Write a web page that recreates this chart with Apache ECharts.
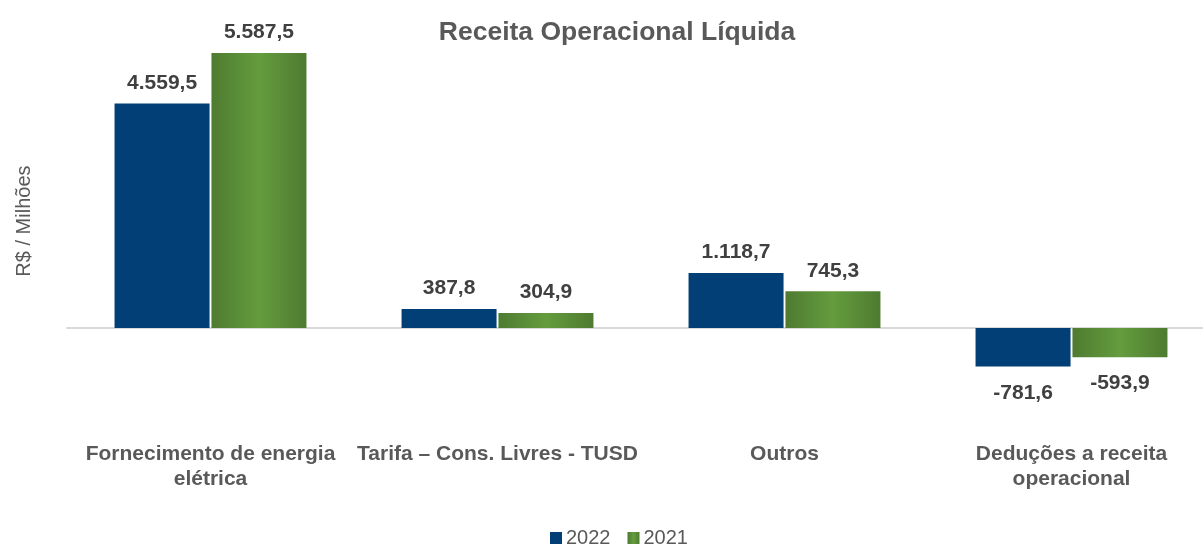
<!DOCTYPE html>
<html>
<head>
<meta charset="utf-8">
<script src="https://cdn.jsdelivr.net/npm/echarts@6/dist/echarts.min.js"></script>
<style>
html,body{margin:0;padding:0;background:#fff;}
#chart{width:1203px;height:545px;}
</style>
</head>
<body>
<div id="chart"></div>
<script>
const categories = ['Fornecimento de energia\nelétrica', 'Tarifa – Cons. Livres - TUSD', 'Outros', 'Deduções a receita\noperacional'];
const seriesNames = ['2022', '2021'];
const values2022 = [4559.5, 387.8, 1118.7, -781.6];
const values2021 = [5587.5, 304.9, 745.3, -593.9];

function fmt(v) {
  const neg = v < 0;
  const a = Math.abs(v);
  let [i, d] = a.toFixed(1).split('.');
  i = i.replace(/\B(?=(\d{3})+(?!\d))/g, '.');
  return (neg ? '-' : '') + i + ',' + d;
}
function build(vals) {
  return vals.map(v => v < 0 ? { value: v, label: { position: 'bottom', distance: 16 } } : v);
}

const blue = '#013F76';
const green = {
  type: 'linear', x: 0, y: 0, x2: 1, y2: 0,
  colorStops: [
    { offset: 0, color: '#4E7B30' },
    { offset: 0.5, color: '#649C3E' },
    { offset: 1, color: '#4E7B30' }
  ]
};
const font = 'Liberation Sans, Arial, sans-serif';

const chart = echarts.init(document.getElementById('chart'));
chart.setOption({
  animation: false,
  backgroundColor: '#fff',
  title: {
    text: 'Receita Operacional Líquida',
    left: 612, top: 14, textAlign: 'center',
    textStyle: { fontFamily: font, fontSize: 26.5, fontWeight: 'bold', color: '#595959' }
  },
  legend: {
    data: seriesNames,
    left: 550, top: 528, padding: 0,
    icon: 'rect', itemWidth: 12, itemHeight: 12, itemGap: 17,
    textStyle: { fontFamily: font, fontSize: 20, color: '#595959', padding: [0, 0, 0, -1] }
  },
  grid: { left: 67, width: 1148, top: 32.7, bottom: 118.6, containLabel: false, outerBoundsMode: 'none' },
  xAxis: [{
    type: 'category', data: categories,
    axisLine: { show: false, onZero: false }, axisTick: { show: false },
    axisLabel: {
      interval: 0, margin: 15,
      fontFamily: font, fontSize: 21, fontWeight: 'bold',
      color: '#595959', lineHeight: 25
    }
  }, {
    type: 'category', data: categories, position: 'bottom',
    axisLine: { show: true, onZero: true, lineStyle: { color: '#D9D9D9', width: 2 } },
    axisTick: { show: false }, axisLabel: { show: false }
  }],
  yAxis: {
    type: 'value', min: -2000, max: 6000,
    axisLabel: { show: false }, axisTick: { show: false }, axisLine: { show: false },
    splitLine: { show: false },
    name: 'R$ / Milhões', nameLocation: 'middle', nameRotate: 90, nameGap: 33,
    nameTextStyle: { fontFamily: font, fontSize: 20, color: '#595959', padding: [0, 0, 0, 17] }
  },
  series: [{
    name: seriesNames[0], type: 'bar', xAxisIndex: 0,
    data: build(values2022), barWidth: 95, barGap: '2%',
    itemStyle: { color: blue },
    label: {
      show: true, position: 'top', distance: 10, formatter: p => fmt(p.value),
      fontFamily: font, fontSize: 21, fontWeight: 'bold', color: '#404040'
    }
  }, {
    name: seriesNames[1], type: 'bar', xAxisIndex: 0,
    data: build(values2021), barWidth: 95, barGap: '2%',
    itemStyle: { color: green },
    label: {
      show: true, position: 'top', distance: 10, formatter: p => fmt(p.value),
      fontFamily: font, fontSize: 21, fontWeight: 'bold', color: '#404040'
    }
  }]
});
</script>
</body>
</html>
